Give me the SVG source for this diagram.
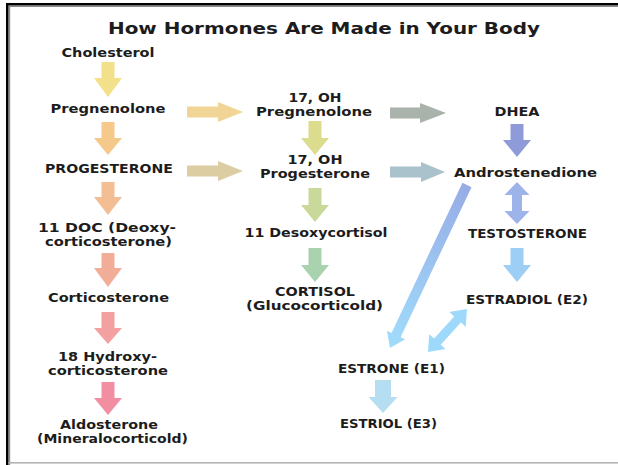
<svg xmlns="http://www.w3.org/2000/svg" width="618" height="465" viewBox="0 0 618 465">
<style>
text{font-family:"DejaVu Sans","Liberation Sans",sans-serif;font-weight:bold;font-size:12px;fill:#1c1c1c;text-anchor:middle}
.title{font-size:16px}
</style>
<defs>
<linearGradient id="gDiag" gradientUnits="userSpaceOnUse" x1="0" y1="0" x2="180" y2="0">
<stop offset="0" stop-color="#97ACE6"/>
<stop offset="1" stop-color="#A0DCFB"/>
</linearGradient>
</defs>
<rect x="0" y="0" width="618" height="465" fill="#ffffff"/>
<g id="frame">
<rect x="6" y="3" width="612" height="2.6" fill="#000"/>
<rect x="8.6" y="5.6" width="609.4" height="1.4" fill="#8a8a8a"/>
<rect x="6" y="3" width="2.6" height="462" fill="#000"/>
<rect x="8.6" y="5.6" width="1.6" height="459.4" fill="#8a8a8a"/>
<rect x="8.6" y="462" width="609.4" height="1.6" fill="#b4b4b4"/>
</g>
<text class="title" x="324" y="34" textLength="432" lengthAdjust="spacingAndGlyphs">How Hormones Are Made in Your Body</text>
<g id="connectors">
<polygon fill="#F3E08A" points="101.5,62 114.5,62 114.5,78 122,78 108,97 94,78 101.5,78"/>
<polygon fill="#F5C98A" points="101.5,122 114.5,122 114.5,138 122,138 108,155 94,138 101.5,138"/>
<polygon fill="#F3BE94" points="101.5,182 114.5,182 114.5,197 122,197 108,215 94,197 101.5,197"/>
<polygon fill="#F1AD98" points="101.5,253 114.5,253 114.5,268 122,268 108,287 94,268 101.5,268"/>
<polygon fill="#F2A0A0" points="101.5,312 114.5,312 114.5,328 122,328 108,344 94,328 101.5,328"/>
<polygon fill="#F18EA2" points="101.5,382 114.5,382 114.5,398 122,398 108,415 94,398 101.5,398"/>
<polygon fill="#DCDC8E" points="308.5,121 321.5,121 321.5,138 329,138 315,155 301,138 308.5,138"/>
<polygon fill="#C9D99A" points="308.5,188 321.5,188 321.5,205 329,205 315,222 301,205 308.5,205"/>
<polygon fill="#A9D2AE" points="308.5,248 321.5,248 321.5,265 329,265 315,282 301,265 308.5,265"/>
<polygon fill="#8F9BD9" points="510.5,124 523.5,124 523.5,140 531,140 517,157 503,140 510.5,140"/>
<polygon fill="#9DCEF6" points="510.5,248 523.5,248 523.5,265 531,265 517,282 503,265 510.5,265"/>
<polygon fill="#B6DEF2" points="375,380 391,380 391,397 397.5,397 383,413 368.5,397 375,397"/>
<polygon fill="#F1D596" points="187,106.5 218,106.5 218,102 243,112 218,122 218,117.5 187,117.5"/>
<polygon fill="#DDCDA2" points="187,165.5 218,165.5 218,161 243,171 218,181 218,176.5 187,176.5"/>
<polygon fill="#AAB2AC" points="390,107.5 420,107.5 420,103 446,113 420,123 420,118.5 390,118.5"/>
<polygon fill="#AAC2CC" points="390,166.5 421,166.5 421,162 445,172 421,182 421,177.5 390,177.5"/>
<polygon fill="#9DB4EA" points="517,182 529.5,195 522,195 522,211 529.5,211 517,224 504.5,211 512,211 512,195 504.5,195"/>
<path fill="url(#gDiag)" transform="translate(467,185) rotate(115.3)" d="M0,-5 L166,-5 L166,-10 L180.3,0 L166,10 L166,5 L0,5 Z"/>
<path fill="#9ED9FB" transform="translate(428,352) rotate(-47.8)" d="M0,0 L14,-11 L14,-4.5 L44,-4.5 L44,-11 L58,0 L44,11 L44,4.5 L14,4.5 L14,11 Z"/>
</g>
<g id="n-cholesterol"><text x="108" y="57" textLength="93" lengthAdjust="spacingAndGlyphs">Cholesterol</text></g>
<g id="n-pregnenolone"><text x="108" y="113" textLength="115" lengthAdjust="spacingAndGlyphs">Pregnenolone</text></g>
<g id="n-progesterone"><text x="109" y="173" textLength="128" lengthAdjust="spacingAndGlyphs">PROGESTERONE</text></g>
<g id="n-11doc"><text x="107" y="232" textLength="138" lengthAdjust="spacingAndGlyphs">11 DOC (Deoxy-</text><text x="108.5" y="246" textLength="127" lengthAdjust="spacingAndGlyphs">corticosterone)</text></g>
<g id="n-corticosterone"><text x="108.5" y="302" textLength="121" lengthAdjust="spacingAndGlyphs">Corticosterone</text></g>
<g id="n-18hydroxy"><text x="107.5" y="361" textLength="99" lengthAdjust="spacingAndGlyphs">18 Hydroxy-</text><text x="108" y="375" textLength="120" lengthAdjust="spacingAndGlyphs">corticosterone</text></g>
<g id="n-aldosterone"><text x="109" y="429" textLength="98" lengthAdjust="spacingAndGlyphs">Aldosterone</text><text x="112.5" y="443" textLength="151" lengthAdjust="spacingAndGlyphs">(Mineralocorticold)</text></g>
<g id="n-17ohpreg"><text x="315" y="102" textLength="53" lengthAdjust="spacingAndGlyphs">17, OH</text><text x="314" y="116" textLength="116" lengthAdjust="spacingAndGlyphs">Pregnenolone</text></g>
<g id="n-17ohprog"><text x="315" y="164" textLength="55" lengthAdjust="spacingAndGlyphs">17, OH</text><text x="315" y="178" textLength="110" lengthAdjust="spacingAndGlyphs">Progesterone</text></g>
<g id="n-desoxycortisol"><text x="316" y="237" textLength="143" lengthAdjust="spacingAndGlyphs">11 Desoxycortisol</text></g>
<g id="n-cortisol"><text x="315" y="296" textLength="80" lengthAdjust="spacingAndGlyphs">CORTISOL</text><text x="314.5" y="310" textLength="137" lengthAdjust="spacingAndGlyphs">(Glucocorticold)</text></g>
<g id="n-dhea"><text x="517" y="116" textLength="45" lengthAdjust="spacingAndGlyphs">DHEA</text></g>
<g id="n-androstenedione"><text x="525.5" y="177" textLength="143" lengthAdjust="spacingAndGlyphs">Androstenedione</text></g>
<g id="n-testosterone"><text x="527.5" y="238" textLength="119" lengthAdjust="spacingAndGlyphs">TESTOSTERONE</text></g>
<g id="n-estradiol"><text x="527" y="304" textLength="122" lengthAdjust="spacingAndGlyphs">ESTRADIOL (E2)</text></g>
<g id="n-estrone"><text x="391.5" y="373" textLength="107" lengthAdjust="spacingAndGlyphs">ESTRONE (E1)</text></g>
<g id="n-estriol"><text x="388.5" y="428" textLength="97" lengthAdjust="spacingAndGlyphs">ESTRIOL (E3)</text></g>
</svg>
